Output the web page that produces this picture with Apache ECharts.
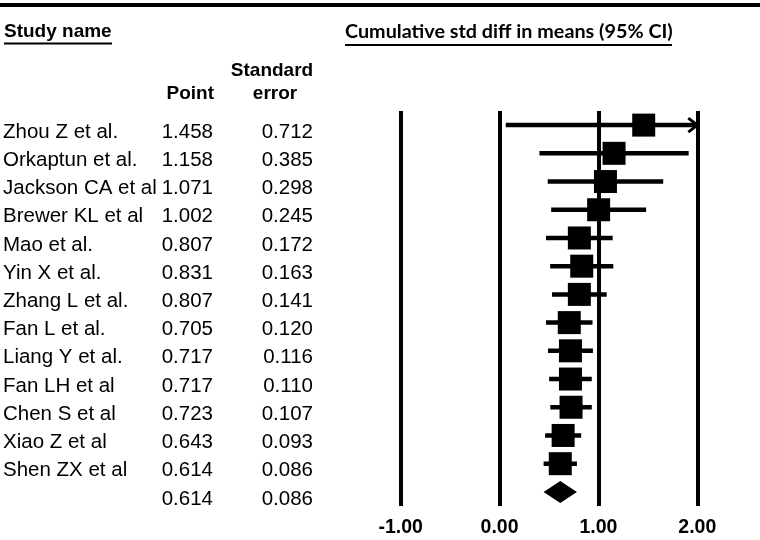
<!DOCTYPE html>
<html><head><meta charset="utf-8">
<script src="https://cdn.jsdelivr.net/npm/echarts@6/dist/echarts.min.js"></script>
<style>html,body{margin:0;padding:0;background:#fff}#c{width:760px;height:540px}</style>
</head><body><div id="c"></div>
<script>
const studies = ['Zhou Z et al.','Orkaptun et al.','Jackson CA et al','Brewer KL et al','Mao et al.','Yin X et al.','Zhang L et al.','Fan L et al.','Liang Y et al.','Fan LH et al','Chen S et al','Xiao Z et al','Shen ZX et al',''];
const points = [1.458,1.158,1.071,1.002,0.807,0.831,0.807,0.705,0.717,0.717,0.723,0.643,0.614,0.614];
const stdErrors = [0.712,0.385,0.298,0.245,0.172,0.163,0.141,0.120,0.116,0.110,0.107,0.093,0.086,0.086];
const isSummary = [0,0,0,0,0,0,0,0,0,0,0,0,0,1];
const xTicks = [-1,0,1,2];

const rowIdx = studies.map((_, i) => i);
const XMIN = xTicks[0], XMAX = xTicks[xTicks.length - 1];
const ARIAL = '"Liberation Sans", Arial, sans-serif';

function renderForest(params, api) {
  const i = api.value(1), p = api.value(0), se = api.value(2), summ = api.value(3);
  const lo = p - 1.96 * se, hi = p + 1.96 * se;
  const c = api.coord([p, i]);
  const cLo = api.coord([Math.max(lo, XMIN), i]);
  const cHi = api.coord([Math.min(hi, XMAX), i]);
  const ch = [];
  if (summ) {
    ch.push({type: 'polygon', shape: {points: [[cLo[0], c[1]], [c[0], c[1] - 11], [cHi[0], c[1]], [c[0], c[1] + 11]]}, style: {fill: '#000'}});
  } else {
    ch.push({type: 'line', shape: {x1: cLo[0], y1: c[1], x2: cHi[0], y2: c[1]}, style: {stroke: '#000', lineWidth: 4.5}});
    if (hi > XMAX) {
      ch.push({type: 'polyline', shape: {points: [[cHi[0] - 9, c[1] - 7], [cHi[0], c[1]], [cHi[0] - 9, c[1] + 7]]}, style: {stroke: '#000', lineWidth: 3, fill: null}});
    }
    ch.push({type: 'rect', shape: {x: c[0] - 11.5, y: c[1] - 11.5, width: 23, height: 23}, style: {fill: '#000'}});
  }
  return {type: 'group', children: ch};
}

function renderTable(params, api) {
  const i = api.value(0);
  const y = api.coord([0, i])[1] + 7;
  const base = {fill: '#000', fontSize: 20.5, fontFamily: ARIAL, verticalAlign: 'middle'};
  return {type: 'group', children: [
    {type: 'text', style: Object.assign({}, base, {text: studies[i], x: 3, y: y, align: 'left'})},
    {type: 'text', style: Object.assign({}, base, {text: points[i].toFixed(3), x: 213, y: y, align: 'right'})},
    {type: 'text', style: Object.assign({}, base, {text: stdErrors[i].toFixed(3), x: 313, y: y, align: 'right'})}
  ]};
}

const chart = echarts.init(document.getElementById('c'), null, {renderer: 'canvas'});
chart.setOption({
  animation: false,
  backgroundColor: '#fff',
  grid: {left: 400.7, width: 296.6, top: 111, height: 395},
  xAxis: {
    type: 'value', min: XMIN, max: XMAX, interval: 1,
    axisLine: {show: false}, axisTick: {show: false},
    splitLine: {show: true, lineStyle: {color: '#000', width: 4}},
    axisLabel: {color: '#000', fontWeight: 'bold', fontSize: 19.5, fontFamily: ARIAL, margin: 12,
      formatter: v => v.toFixed(2)}
  },
  yAxis: {type: 'category', data: rowIdx, inverse: true, show: false},
  graphic: [
    {type: 'line', shape: {x1: 0, y1: 5, x2: 760, y2: 5}, style: {stroke: '#000', lineWidth: 4}},
    {type: 'text', x: 4, y: 32, style: {text: 'Study name', fontSize: 19, fontWeight: 'bold', fontFamily: ARIAL, fill: '#000', verticalAlign: 'middle'}},
    {type: 'line', shape: {x1: 4, y1: 43.5, x2: 112, y2: 43.5}, style: {stroke: '#000', lineWidth: 2}},
    {type: 'text', x: 345, y: 32, scaleX: 1.04, style: {text: 'Cumulative std diff in means (95% CI)', fontSize: 19, fontWeight: 'bold', fontFamily: 'Lato, sans-serif', fill: '#000', verticalAlign: 'middle'}},
    {type: 'line', shape: {x1: 345, y1: 45, x2: 672, y2: 45}, style: {stroke: '#000', lineWidth: 2}},
    {type: 'text', x: 272, y: 71, style: {text: 'Standard', fontSize: 19, fontWeight: 'bold', fontFamily: ARIAL, fill: '#000', align: 'center', verticalAlign: 'middle'}},
    {type: 'text', x: 214, y: 94, style: {text: 'Point', fontSize: 19, fontWeight: 'bold', fontFamily: ARIAL, fill: '#000', align: 'right', verticalAlign: 'middle'}},
    {type: 'text', x: 275, y: 94, style: {text: 'error', fontSize: 19, fontWeight: 'bold', fontFamily: ARIAL, fill: '#000', align: 'center', verticalAlign: 'middle'}}
  ],
  series: [
    {type: 'custom', clip: false, renderItem: renderForest,
     data: points.map((p, i) => [p, i, stdErrors[i], isSummary[i]]), z: 3},
    {type: 'custom', clip: false, renderItem: renderTable,
     data: rowIdx.map(i => [i]), encode: {x: -1, y: 0}, z: 3}
  ]
});
</script></body></html>
